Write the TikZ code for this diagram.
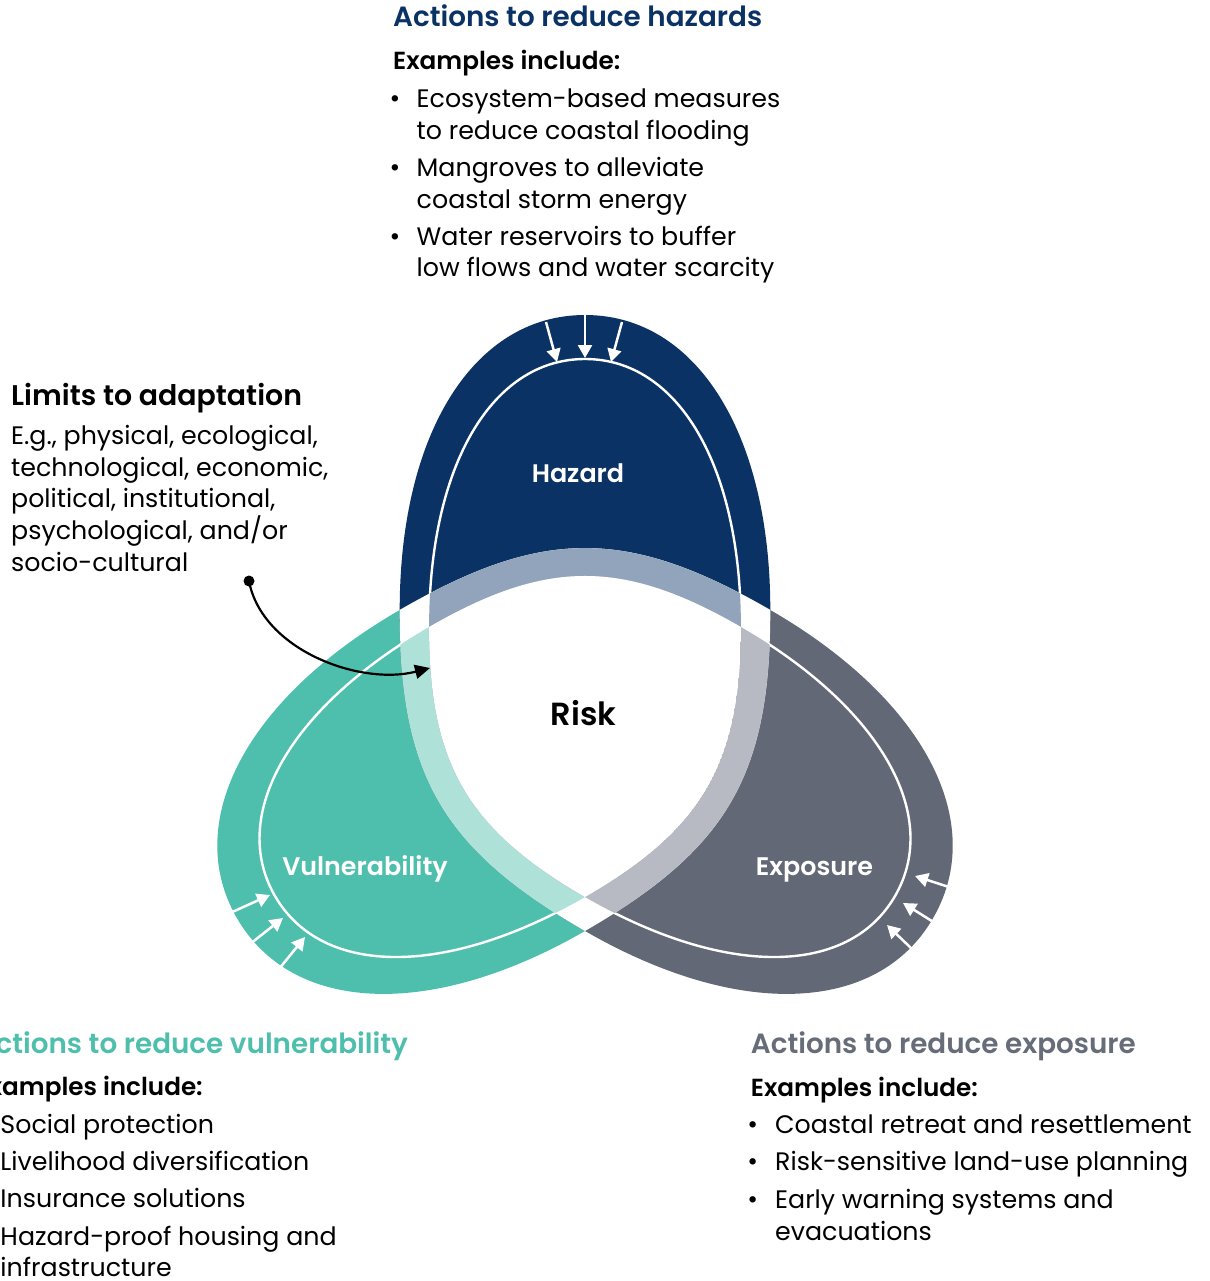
\documentclass[tikz,border=0pt]{standalone}
\usepackage{fontspec}
\setmainfont{Poppins}[BoldFont={Poppins SemiBold}]
\usetikzlibrary{arrows.meta}

\definecolor{hazardblue}{HTML}{0A3264}
\definecolor{vulnteal}{HTML}{4FBFAD}
\definecolor{exposgray}{HTML}{636876}
\definecolor{paleblue}{HTML}{91A4BC}
\definecolor{paleteal}{HTML}{AEE1D8}
\definecolor{palegray}{HTML}{B7BAC3}
\definecolor{exposhead}{HTML}{666C78}

% Outer edge of one lobe of the knot (round end up, point down),
% in coordinates centred on the middle of the knot.  The lower arcs
% are symmetric about the 210/330 degree lines, so the three rotated
% copies share their crossing arcs exactly.
\newcommand\outerdrop{(0,-214)
  .. controls (-142.9,-131.5) and (-185.3,-58) .. (-185.3,107)
  .. controls (-185.3,284) and (-111,402) .. (0,402)
  .. controls (111,402) and (185.3,284) .. (185.3,107)
  .. controls (185.3,-58) and (142.9,-131.5) .. (0,-214) -- cycle}
% Inner edge of the same lobe (the white contour line).
\newcommand\innerdrop{(0,-180)
  .. controls (-117.8,-112) and (-155.9,-46) .. (-155.9,90)
  .. controls (-155.9,250.8) and (-93.5,358) .. (0,358)
  .. controls (93.5,358) and (155.9,250.8) .. (155.9,90)
  .. controls (155.9,-46) and (117.8,-112) .. (0,-180) -- cycle}

\begin{document}
\begin{tikzpicture}[x=1pt, y=1pt,
  body/.style={inner sep=0pt, anchor=base west, font=\fontsize{25.3}{30}\selectfont},
  bul/.style={inner sep=0pt, anchor=base, font=\fontsize{26}{30}\selectfont},
  exhead/.style={inner sep=0pt, anchor=base west, font=\fontsize{24.7}{30}\selectfont\bfseries},
  acthead/.style={inner sep=0pt, anchor=base west, font=\fontsize{27.8}{30}\selectfont\bfseries},
  lobelabel/.style={inner sep=0pt, anchor=base, text=white, font=\fontsize{25.4}{30}\selectfont\bfseries},
  inarrow/.style={white, line width=2.5pt, -{Triangle[length=13pt,width=14pt]}},
  limitarrow/.style={black, line width=2.2pt, -{Triangle[length=15pt,width=14pt]}},
  contour/.style={white, line width=2.4pt}]
\useasboundingbox (0,0) rectangle (1209,-1281);
\coordinate (C) at (585,-717);

% ---- the three lobes ----
\fill[hazardblue, shift={(C)}] \outerdrop;
\fill[vulnteal, shift={(C)}, rotate=120] \outerdrop;
\fill[exposgray, shift={(C)}, rotate=-120] \outerdrop;

% white contour lines inside each lobe
\draw[contour, shift={(C)}] \innerdrop;
\draw[contour, shift={(C)}, rotate=120] \innerdrop;
\draw[contour, shift={(C)}, rotate=-120] \innerdrop;

% ---- centre: ribbons crossing over the risk area ----
\begin{scope}
  \clip[shift={(C)}] \outerdrop;
  \clip[shift={(C)}, rotate=120] \outerdrop;
  \clip[shift={(C)}, rotate=-120] \outerdrop;
  \fill[white] (0,0) rectangle (1209,-1281);
  \fill[paleteal, shift={(C)}, rotate=120] \innerdrop;
  \fill[paleblue, shift={(C)}] \innerdrop;
  \fill[palegray, shift={(C)}, rotate=-120] \innerdrop;
  \clip[shift={(C)}] \innerdrop;
  \fill[white, shift={(C)}, rotate=120] \innerdrop;
\end{scope}

% ---- inward arrows on each lobe ----
\coordinate (hzA1) at (546,-322); \coordinate (hzB1) at (557,-362);
\coordinate (hzA2) at (585,-315); \coordinate (hzB2) at (585,-358);
\coordinate (hzA3) at (622,-322); \coordinate (hzB3) at (611,-362);
\draw[inarrow] (hzA1) -- (hzB1);
\draw[inarrow] (hzA2) -- (hzB2);
\draw[inarrow] (hzA3) -- (hzB3);

\coordinate (vuA1) at (230,-913); \coordinate (vuB1) at (270,-895);
\coordinate (vuA2) at (250,-944); \coordinate (vuB2) at (283,-918);
\coordinate (vuA3) at (279,-969); \coordinate (vuB3) at (305,-937);
\draw[inarrow] (vuA1) -- (vuB1);
\draw[inarrow] (vuA2) -- (vuB2);
\draw[inarrow] (vuA3) -- (vuB3);

\coordinate (exA1) at (952,-888); \coordinate (exB1) at (915,-876);
\coordinate (exA2) at (935,-923); \coordinate (exB2) at (903,-903);
\coordinate (exA3) at (912,-949); \coordinate (exB3) at (887,-925);
\draw[inarrow] (exA1) -- (exB1);
\draw[inarrow] (exA2) -- (exB2);
\draw[inarrow] (exA3) -- (exB3);

% ---- lobe labels ----
\node[lobelabel] (hazard) at (578,-482) {Hazard};
\node[lobelabel] (vuln) at (365,-875) {Vulnerability};
\node[lobelabel] (expo) at (814.5,-875) {Exposure};
\node[inner sep=0pt, anchor=base, font=\fontsize{32}{34}\selectfont\bfseries] (risk) at (583.5,-725) {Risk};

% ---- limits to adaptation ----
\node[inner sep=0pt, anchor=base west, font=\fontsize{28.4}{30}\selectfont\bfseries] (limT) at (11,-405) {Limits to adaptation};
\node[body] (lim1) at (11,-444) {E.g., physical, ecological,};
\node[body] (lim2) at (11,-476) {technological, economic,};
\node[body] (lim3) at (11,-507.5) {political, institutional,};
\node[body] (lim4) at (11,-539.5) {psychological, and/or};
\node[body] (lim5) at (11,-571.5) {socio-cultural};
\coordinate (limdot) at (249,-581);
\coordinate (limtip) at (430,-668);
\fill (limdot) circle (5.5);
\draw[limitarrow] (limdot) .. controls (262,-650) and (360,-686) .. (limtip);

% ---- actions to reduce hazards ----
\node[acthead, text=hazardblue] (hzT) at (393,-27) {Actions to reduce hazards};
\node[exhead] (hzE) at (393,-70) {Examples include:};
\node[bul] (hzd1) at (395,-108) {•};
\node[body] (hz1a) at (416.5,-108) {Ecosystem-based measures};
\node[body] (hz1b) at (416.5,-139.3) {to reduce coastal flooding};
\node[bul] (hzd2) at (395,-176.7) {•};
\node[body] (hz2a) at (416.5,-176.7) {Mangroves to alleviate};
\node[body] (hz2b) at (416.5,-208.3) {coastal storm energy};
\node[bul] (hzd3) at (395,-245) {•};
\node[body] (hz3a) at (416.5,-245) {Water reservoirs to buffer};
\node[body] (hz3b) at (416.5,-276.7) {low flows and water scarcity};

% ---- actions to reduce vulnerability ----
\node[acthead, text=vulnteal] (vuT) at (-24.5,-1053.3) {Actions to reduce vulnerability};
\node[exhead] (vuE) at (-24.5,-1095.5) {Examples include:};
\node[bul] (vud1) at (-22.5,-1133.3) {•};
\node[body] (vu1) at (0.3,-1133.3) {Social protection};
\node[bul] (vud2) at (-22.5,-1170.5) {•};
\node[body] (vu2) at (0.3,-1170.5) {Livelihood diversification};
\node[bul] (vud3) at (-22.5,-1207.5) {•};
\node[body] (vu3) at (0.3,-1207.5) {Insurance solutions};
\node[bul] (vud4) at (-22.5,-1245) {•};
\node[body] (vu4a) at (0.3,-1245) {Hazard-proof housing and};
\node[body] (vu4b) at (0.3,-1276) {infrastructure};

% ---- actions to reduce exposure ----
\node[acthead, text=exposhead] (exT) at (750.7,-1053.3) {Actions to reduce exposure};
\node[exhead] (exE) at (750.7,-1096) {Examples include:};
\node[bul] (exd1) at (752.7,-1133.3) {•};
\node[body] (ex1) at (775,-1133.3) {Coastal retreat and resettlement};
\node[bul] (exd2) at (752.7,-1170.7) {•};
\node[body] (ex2) at (775,-1170.7) {Risk-sensitive land-use planning};
\node[bul] (exd3) at (752.7,-1208.3) {•};
\node[body] (ex3a) at (775,-1208.3) {Early warning systems and};
\node[body] (ex3b) at (775,-1240) {evacuations};
\end{tikzpicture}
\end{document}
